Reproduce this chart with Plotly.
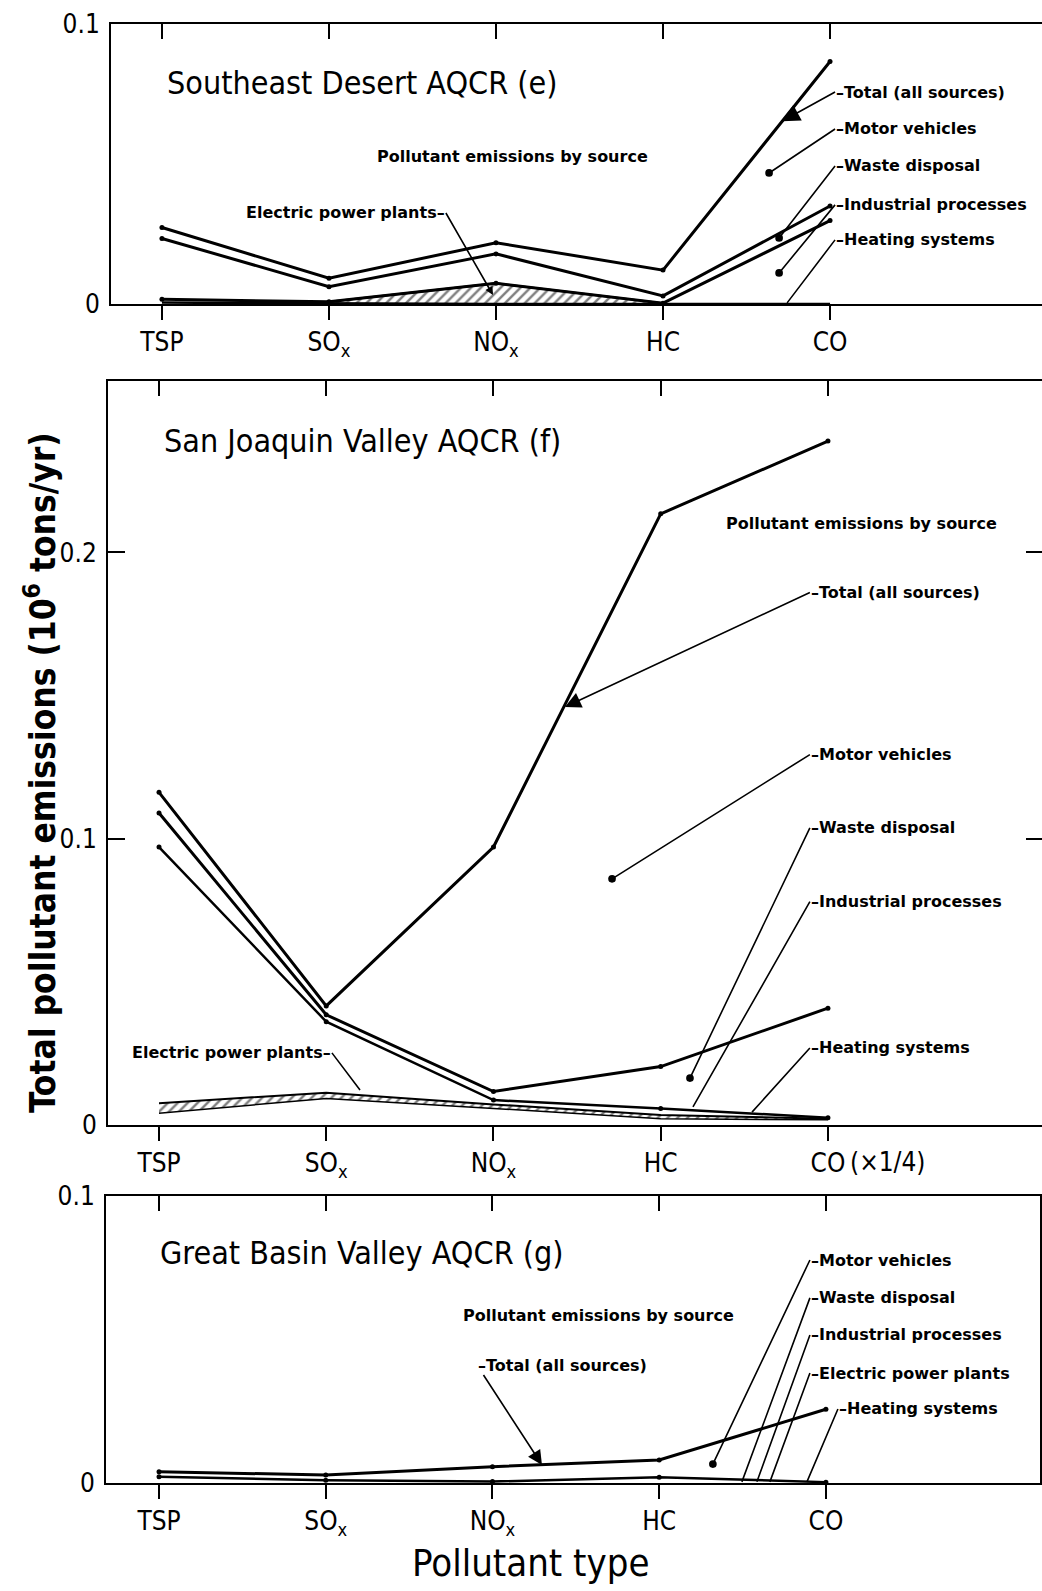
import plotly.graph_objects as go

W, H = 1042, 1591

categories = ["TSP", "SO<sub>x</sub>", "NO<sub>x</sub>", "HC", "CO"]
cat_idx = [0, 1, 2, 3, 4]

# ---- Southeast Desert AQCR (e)  (10^6 tons/yr, cumulative source lines)
se_total = [0.0273, 0.0092, 0.0219, 0.0121, 0.0866]
se_line2 = [0.0234, 0.0062, 0.0179, 0.0029, 0.0350]
se_line3 = [0.0017, 0.0008, 0.0074, 0.0003, 0.0298]
se_heating = [0.0005, 0.0002, 0.0, 0.0, 0.0]
se_epp_top = [None, 0.0008, 0.0074, 0.0003, None]
se_epp_bottom = [None, 0.0, 0.0, 0.0, None]

# ---- San Joaquin Valley AQCR (f)  (CO shown x1/4)
sj_total = [0.1162, 0.0416, 0.0971, 0.2135, 0.2389]
sj_line2 = [0.1090, 0.0385, 0.0117, 0.0204, 0.0408]
sj_line3 = [0.0971, 0.0361, 0.0087, 0.0058, 0.0025]
sj_epp_top = [0.0076, 0.0113, 0.0072, 0.0035, 0.0022]
sj_epp_bottom = [0.0041, 0.0093, 0.0058, 0.0022, 0.0018]

# ---- Great Basin Valley AQCR (g)
gb_total = [0.0039, 0.0028, 0.0057, 0.0080, 0.0257]
gb_line2 = [0.0022, 0.0010, 0.0005, 0.0020, 0.0003]

NARROW = "Liberation Sans Narrow, DejaVu Sans Condensed, Arial Narrow, sans-serif"
BOLD = "DejaVu Sans, Liberation Sans, sans-serif"

fig = go.Figure()


def line(xa, ya, vals, width=3, markers=True):
    xs = [c for c, v in zip(cat_idx, vals) if v is not None]
    ys = [v for v in vals if v is not None]
    fig.add_trace(go.Scatter(
        x=xs, y=ys, xaxis=xa, yaxis=ya,
        mode="lines+markers" if markers else "lines",
        line=dict(color="black", width=width),
        marker=dict(color="black", size=5),
        showlegend=False, hoverinfo="skip"))


def hatch(xa, ya, top, bottom):
    xs = [c for c, v in zip(cat_idx, top) if v is not None]
    lo = [v for v in bottom if v is not None]
    hi = [v for v in top if v is not None]
    fig.add_trace(go.Scatter(x=xs, y=lo, xaxis=xa, yaxis=ya, mode="lines",
                             line=dict(color="black", width=1.5),
                             showlegend=False, hoverinfo="skip"))
    fig.add_trace(go.Scatter(x=xs, y=hi, xaxis=xa, yaxis=ya, mode="lines",
                             fill="tonexty", fillcolor="rgba(0,0,0,0)",
                             fillpattern=dict(shape="/", fgcolor="black",
                                              bgcolor="white", size=7,
                                              solidity=0.35),
                             line=dict(color="black", width=2),
                             showlegend=False, hoverinfo="skip"))


def dummy(xa, ya):
    # empty trace so that overlay axes (frame ticks) get drawn
    fig.add_trace(go.Scatter(x=[None], y=[None], xaxis=xa, yaxis=ya,
                             mode="lines", showlegend=False, hoverinfo="skip"))


# top panel
hatch("x", "y", se_epp_top, se_epp_bottom)
line("x", "y", se_heating, width=2.5, markers=False)
line("x", "y", se_line3)
line("x", "y", se_line2)
line("x", "y", se_total)

# middle panel
hatch("x2", "y2", sj_epp_top, sj_epp_bottom)
line("x2", "y2", sj_line3, width=2.5)
line("x2", "y2", sj_line2)
line("x2", "y2", sj_total)

# bottom panel
line("x3", "y3", gb_line2, width=2.5)
line("x3", "y3", gb_total)

dummy("x4", "y")
dummy("x5", "y2")
dummy("x6", "y3")
dummy("x2", "y4")

tickfont = dict(family=NARROW, size=26, color="black")
common_x = dict(tickvals=cat_idx, ticktext=categories, ticks="outside",
                ticklen=14, tickwidth=2, tickcolor="black", showline=True,
                linewidth=2, linecolor="black", showgrid=False,
                zeroline=False, tickfont=tickfont, fixedrange=True,
                automargin=False)
common_top = dict(tickvals=cat_idx, ticks="inside", ticklen=15, tickwidth=2,
                  tickcolor="black", showline=True, linewidth=2,
                  linecolor="black", showgrid=False, zeroline=False,
                  showticklabels=False, side="top", automargin=False)
common_y = dict(showline=True, linewidth=2, linecolor="black",
                showgrid=False, zeroline=False, tickfont=tickfont,
                ticklabelstandoff=4, automargin=False)

top_dom = [1 - 304 / H, 1 - 24 / H]
mid_dom = [1 - 1125 / H, 1 - 380.7 / H]
bot_dom = [1 - 1483 / H, 1 - 1196 / H]

r1 = [-0.305, 5.269]
r2 = [-0.305, 5.28]
r3 = [-0.318, 5.284]

fig.update_layout(
    width=W, height=H,
    margin=dict(l=0, r=0, t=0, b=0, autoexpand=False),
    paper_bgcolor="white", plot_bgcolor="white",
    xaxis=dict(domain=[111 / W, 1], range=r1, anchor="y", **common_x),
    xaxis4=dict(overlaying="x", anchor="y", range=r1, **common_top),
    yaxis=dict(domain=top_dom, range=[0, 0.1], anchor="x",
               tickvals=[0, 0.1], ticktext=["0", "0.1"], ticks="", **common_y),
    xaxis2=dict(domain=[108 / W, 1], range=r2, anchor="y2", **common_x),
    xaxis5=dict(overlaying="x2", anchor="y2", range=r2, **common_top),
    yaxis2=dict(domain=mid_dom, range=[0, 0.26], anchor="x2",
                tickvals=[0, 0.1, 0.2], ticktext=["0", "0.1", "0.2"],
                ticks="inside", ticklen=17, tickwidth=2, tickcolor="black",
                **common_y),
    yaxis4=dict(overlaying="y2", anchor="x2", side="right", range=[0, 0.26],
                tickvals=[0.1, 0.2], ticks="inside", ticklen=16, tickwidth=2,
                tickcolor="black", showline=False, showgrid=False,
                zeroline=False, showticklabels=False, automargin=False),
    xaxis3=dict(domain=[106 / W, 1040 / W], range=r3, anchor="y3", **common_x),
    xaxis6=dict(overlaying="x3", anchor="y3", range=r3, **common_top),
    yaxis3=dict(domain=bot_dom, range=[0, 0.1], anchor="x3", mirror=True,
                tickvals=[0, 0.1], ticktext=["0", "0.1"], ticks="", **common_y),
)

title_font = dict(family=NARROW, size=32, color="black")
lab_font = dict(family=BOLD, size=16, color="black")


def text(xa, ya, x, y, s, font, anchor="left"):
    fig.add_annotation(xref=xa, yref=ya, x=x, y=y, text=s, showarrow=False,
                       xanchor=anchor, yanchor="middle", font=font)


def pointer(xa, ya, hx, hy, tx, ty, s, head=6, anchor="left", size=1.2):
    fig.add_annotation(xref=xa, yref=ya, axref=xa, ayref=ya, x=hx, y=hy,
                       ax=tx, ay=ty, text=s, showarrow=True, arrowhead=head,
                       arrowsize=size, arrowwidth=1.6, arrowcolor="black",
                       xanchor=anchor, yanchor="middle", font=lab_font,
                       borderpad=0)


# ---- top panel texts
text("x", "y", 0.018, 0.0789, "Southeast Desert AQCR (e)", title_font)
text("x", "y", 2.10, 0.0525, "<b>Pollutant emissions by source</b>", lab_font, "center")
pointer("x", "y", 1.982, 0.0032, 1.70, 0.0325, "<b>Electric power plants–</b>", head=2, anchor="right", size=1.0)
pointer("x", "y", 3.713, 0.0653, 4.03, 0.0757, "<b>–Total (all sources)</b>", head=2, size=2.2)
pointer("x", "y", 3.635, 0.0468, 4.03, 0.0625, "<b>–Motor vehicles</b>")
pointer("x", "y", 3.695, 0.0236, 4.03, 0.0493, "<b>–Waste disposal</b>")
pointer("x", "y", 3.695, 0.0111, 4.03, 0.0354, "<b>–Industrial processes</b>")
pointer("x", "y", 3.743, 0.0004, 4.03, 0.0229, "<b>–Heating systems</b>", head=0)

# ---- middle panel texts
text("x2", "y2", 0.018, 0.2388, "San Joaquin Valley AQCR (f)", title_font)
text("x2", "y2", 4.203, 0.2101, "<b>Pollutant emissions by source</b>", lab_font, "center")
pointer("x2", "y2", 2.427, 0.146, 3.892, 0.186, "<b>–Total (all sources)</b>", head=2, size=2.0)
pointer("x2", "y2", 2.709, 0.086, 3.892, 0.1294, "<b>–Motor vehicles</b>")
pointer("x2", "y2", 3.175, 0.0164, 3.892, 0.1038, "<b>–Waste disposal</b>")
pointer("x2", "y2", 3.193, 0.0063, 3.892, 0.078, "<b>–Industrial processes</b>", head=0)
pointer("x2", "y2", 3.546, 0.0045, 3.892, 0.0269, "<b>–Heating systems</b>", head=0)
pointer("x2", "y2", 1.202, 0.0122, 1.034, 0.0252, "<b>Electric power plants–</b>", head=0, anchor="right")
text("x2", "paper", 4.12, 1 - 1162 / H, "(×1/4)", tickfont)

# ---- bottom panel texts
text("x3", "y3", -0.006, 0.0801, "Great Basin Valley AQCR (g)", title_font)
text("x3", "y3", 2.633, 0.0585, "<b>Pollutant emissions by source</b>", lab_font, "center")
pointer("x3", "y3", 2.297, 0.0063, 1.907, 0.0411, "<b>–Total (all sources)</b>", head=2, size=1.8)
pointer("x3", "y3", 3.322, 0.0066, 3.904, 0.0777, "<b>–Motor vehicles</b>")
pointer("x3", "y3", 3.496, 0.0004, 3.904, 0.0645, "<b>–Waste disposal</b>", head=0)
pointer("x3", "y3", 3.586, 0.0004, 3.904, 0.0516, "<b>–Industrial processes</b>", head=0)
pointer("x3", "y3", 3.664, 0.0004, 3.904, 0.0383, "<b>–Electric power plants</b>", head=0)
pointer("x3", "y3", 3.886, 0.0004, 4.072, 0.0258, "<b>–Heating systems</b>", head=0)

# ---- axis titles
fig.add_annotation(xref="paper", yref="paper", x=40 / W, y=1 - 773 / H,
                   xanchor="center", yanchor="middle",
                   text="<b>Total pollutant emissions (10<sup>6</sup> tons/yr)</b>",
                   textangle=-90, showarrow=False,
                   font=dict(family=NARROW, size=35, color="black"))
fig.add_annotation(xref="paper", yref="paper", x=530 / W, y=1 - 1563 / H,
                   xanchor="center", yanchor="middle",
                   text="Pollutant type", showarrow=False,
                   font=dict(family=NARROW, size=38, color="black"))

fig.write_html("out.html")
